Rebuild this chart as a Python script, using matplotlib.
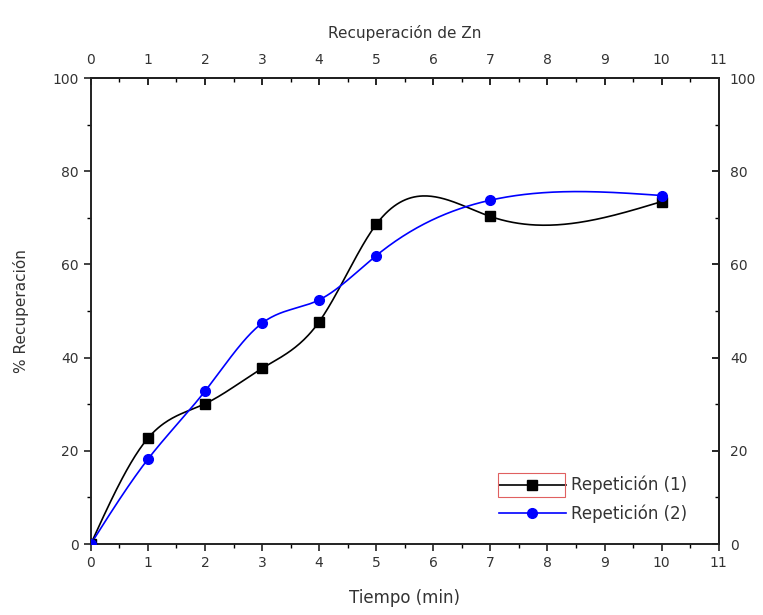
import numpy as np
import matplotlib
matplotlib.use("Agg")
import matplotlib.pyplot as plt
from matplotlib.patches import Rectangle

tiempo = [0, 1, 2, 3, 4, 5, 7, 10]
rep1 = [0, 22.7, 30.1, 37.7, 47.7, 68.6, 70.3, 73.5]
rep2 = [0, 18.2, 32.8, 47.4, 52.4, 61.9, 73.8, 74.8]
x_ticks = list(range(0, 12))
y_ticks = [0, 20, 40, 60, 80, 100]


def natural_spline(x, y, n=400):
    x = np.asarray(x, float)
    y = np.asarray(y, float)
    k = len(x)
    h = np.diff(x)
    A = np.zeros((k, k))
    b = np.zeros(k)
    A[0, 0] = 1
    A[-1, -1] = 1
    for i in range(1, k - 1):
        A[i, i - 1] = h[i - 1]
        A[i, i] = 2 * (h[i - 1] + h[i])
        A[i, i + 1] = h[i]
        b[i] = 6 * ((y[i + 1] - y[i]) / h[i] - (y[i] - y[i - 1]) / h[i - 1])
    M = np.linalg.solve(A, b)
    xs = np.linspace(x[0], x[-1], n)
    idx = np.clip(np.searchsorted(x, xs) - 1, 0, k - 2)
    x0, x1 = x[idx], x[idx + 1]
    hh = x1 - x0
    t0 = x1 - xs
    t1 = xs - x0
    ys = (M[idx] * t0 ** 3 / (6 * hh) + M[idx + 1] * t1 ** 3 / (6 * hh)
          + (y[idx] / hh - M[idx] * hh / 6) * t0
          + (y[idx + 1] / hh - M[idx + 1] * hh / 6) * t1)
    return xs, ys


plt.rcParams['font.family'] = ['DejaVu Sans']
fig = plt.figure(figsize=(7.63, 6.15), dpi=100)
ax = fig.add_axes([0.119, 0.1154, 0.823, 0.7576])

blue = '#0000ff'
tc = '#333333'
xs1, ys1 = natural_spline(tiempo, rep1)
xs2, ys2 = natural_spline(tiempo, rep2)
ax.plot(xs1, ys1, color='black', lw=1.2, zorder=2)
ax.plot(xs2, ys2, color=blue, lw=1.2, zorder=2)
ax.plot(tiempo, rep1, 's', color='black', ms=6.5, zorder=3)
ax.plot(tiempo, rep2, 'o', color=blue, ms=7, zorder=3)

h1, = ax.plot([], [], '-s', color='black', ms=6.5, lw=1.2, label='Repetición (1)')
h2, = ax.plot([], [], '-o', color=blue, ms=7, lw=1.2, label='Repetición (2)')

ax.set_xlim(0, 11)
ax.set_ylim(0, 100)
ax.set_xticks(x_ticks)
ax.set_yticks(y_ticks)
ax.set_xticks(np.arange(0.5, 11, 1), minor=True)
ax.set_yticks(np.arange(10, 100, 20), minor=True)
ax.tick_params(which='major', direction='out', length=5, width=1.2, labelsize=10,
               colors='#222222', labelcolor=tc)
ax.tick_params(which='minor', direction='out', length=3, width=1.0)
for s in ax.spines.values():
    s.set_linewidth(1.4)
    s.set_color('#222222')

ax.set_xlabel('Tiempo (min)', fontsize=12, labelpad=14, color=tc)
ax.set_ylabel('% Recuperación', fontsize=11, labelpad=17, color=tc)

top = ax.secondary_xaxis('top')
top.set_xticks(x_ticks)
top.set_xticks(np.arange(0.5, 11, 1), minor=True)
top.tick_params(which='major', direction='in', length=5, width=1.2, labelsize=10,
                pad=8, labelcolor=tc)
top.tick_params(which='minor', direction='in', length=3, width=1.0)
top.set_xlabel('Recuperación de Zn', fontsize=11, labelpad=11, color=tc)
top.spines['top'].set_linewidth(1.4)

right = ax.secondary_yaxis('right')
right.set_yticks(y_ticks)
right.set_yticks(np.arange(10, 100, 20), minor=True)
right.tick_params(which='major', direction='in', length=5, width=1.2, labelsize=10,
                  pad=8, labelcolor=tc)
right.tick_params(which='minor', direction='in', length=3, width=1.0)
right.spines['right'].set_linewidth(1.4)

leg = ax.legend(handles=[h1, h2], loc='upper left', bbox_to_anchor=(499 / 763, 1 - 476 / 615),
                bbox_transform=fig.transFigure, frameon=False, fontsize=12,
                handlelength=4.0, handletextpad=0.3, labelspacing=0.6,
                borderpad=0.0, borderaxespad=0.0)
for t in leg.get_texts():
    t.set_color(tc)

fig.patches.append(Rectangle((498 / 763, 1 - 497 / 615), (565 - 498) / 763, (497 - 473) / 615,
                             transform=fig.transFigure, fill=False, edgecolor='#e06060', lw=0.8))

fig.savefig('out.png', dpi=100)
